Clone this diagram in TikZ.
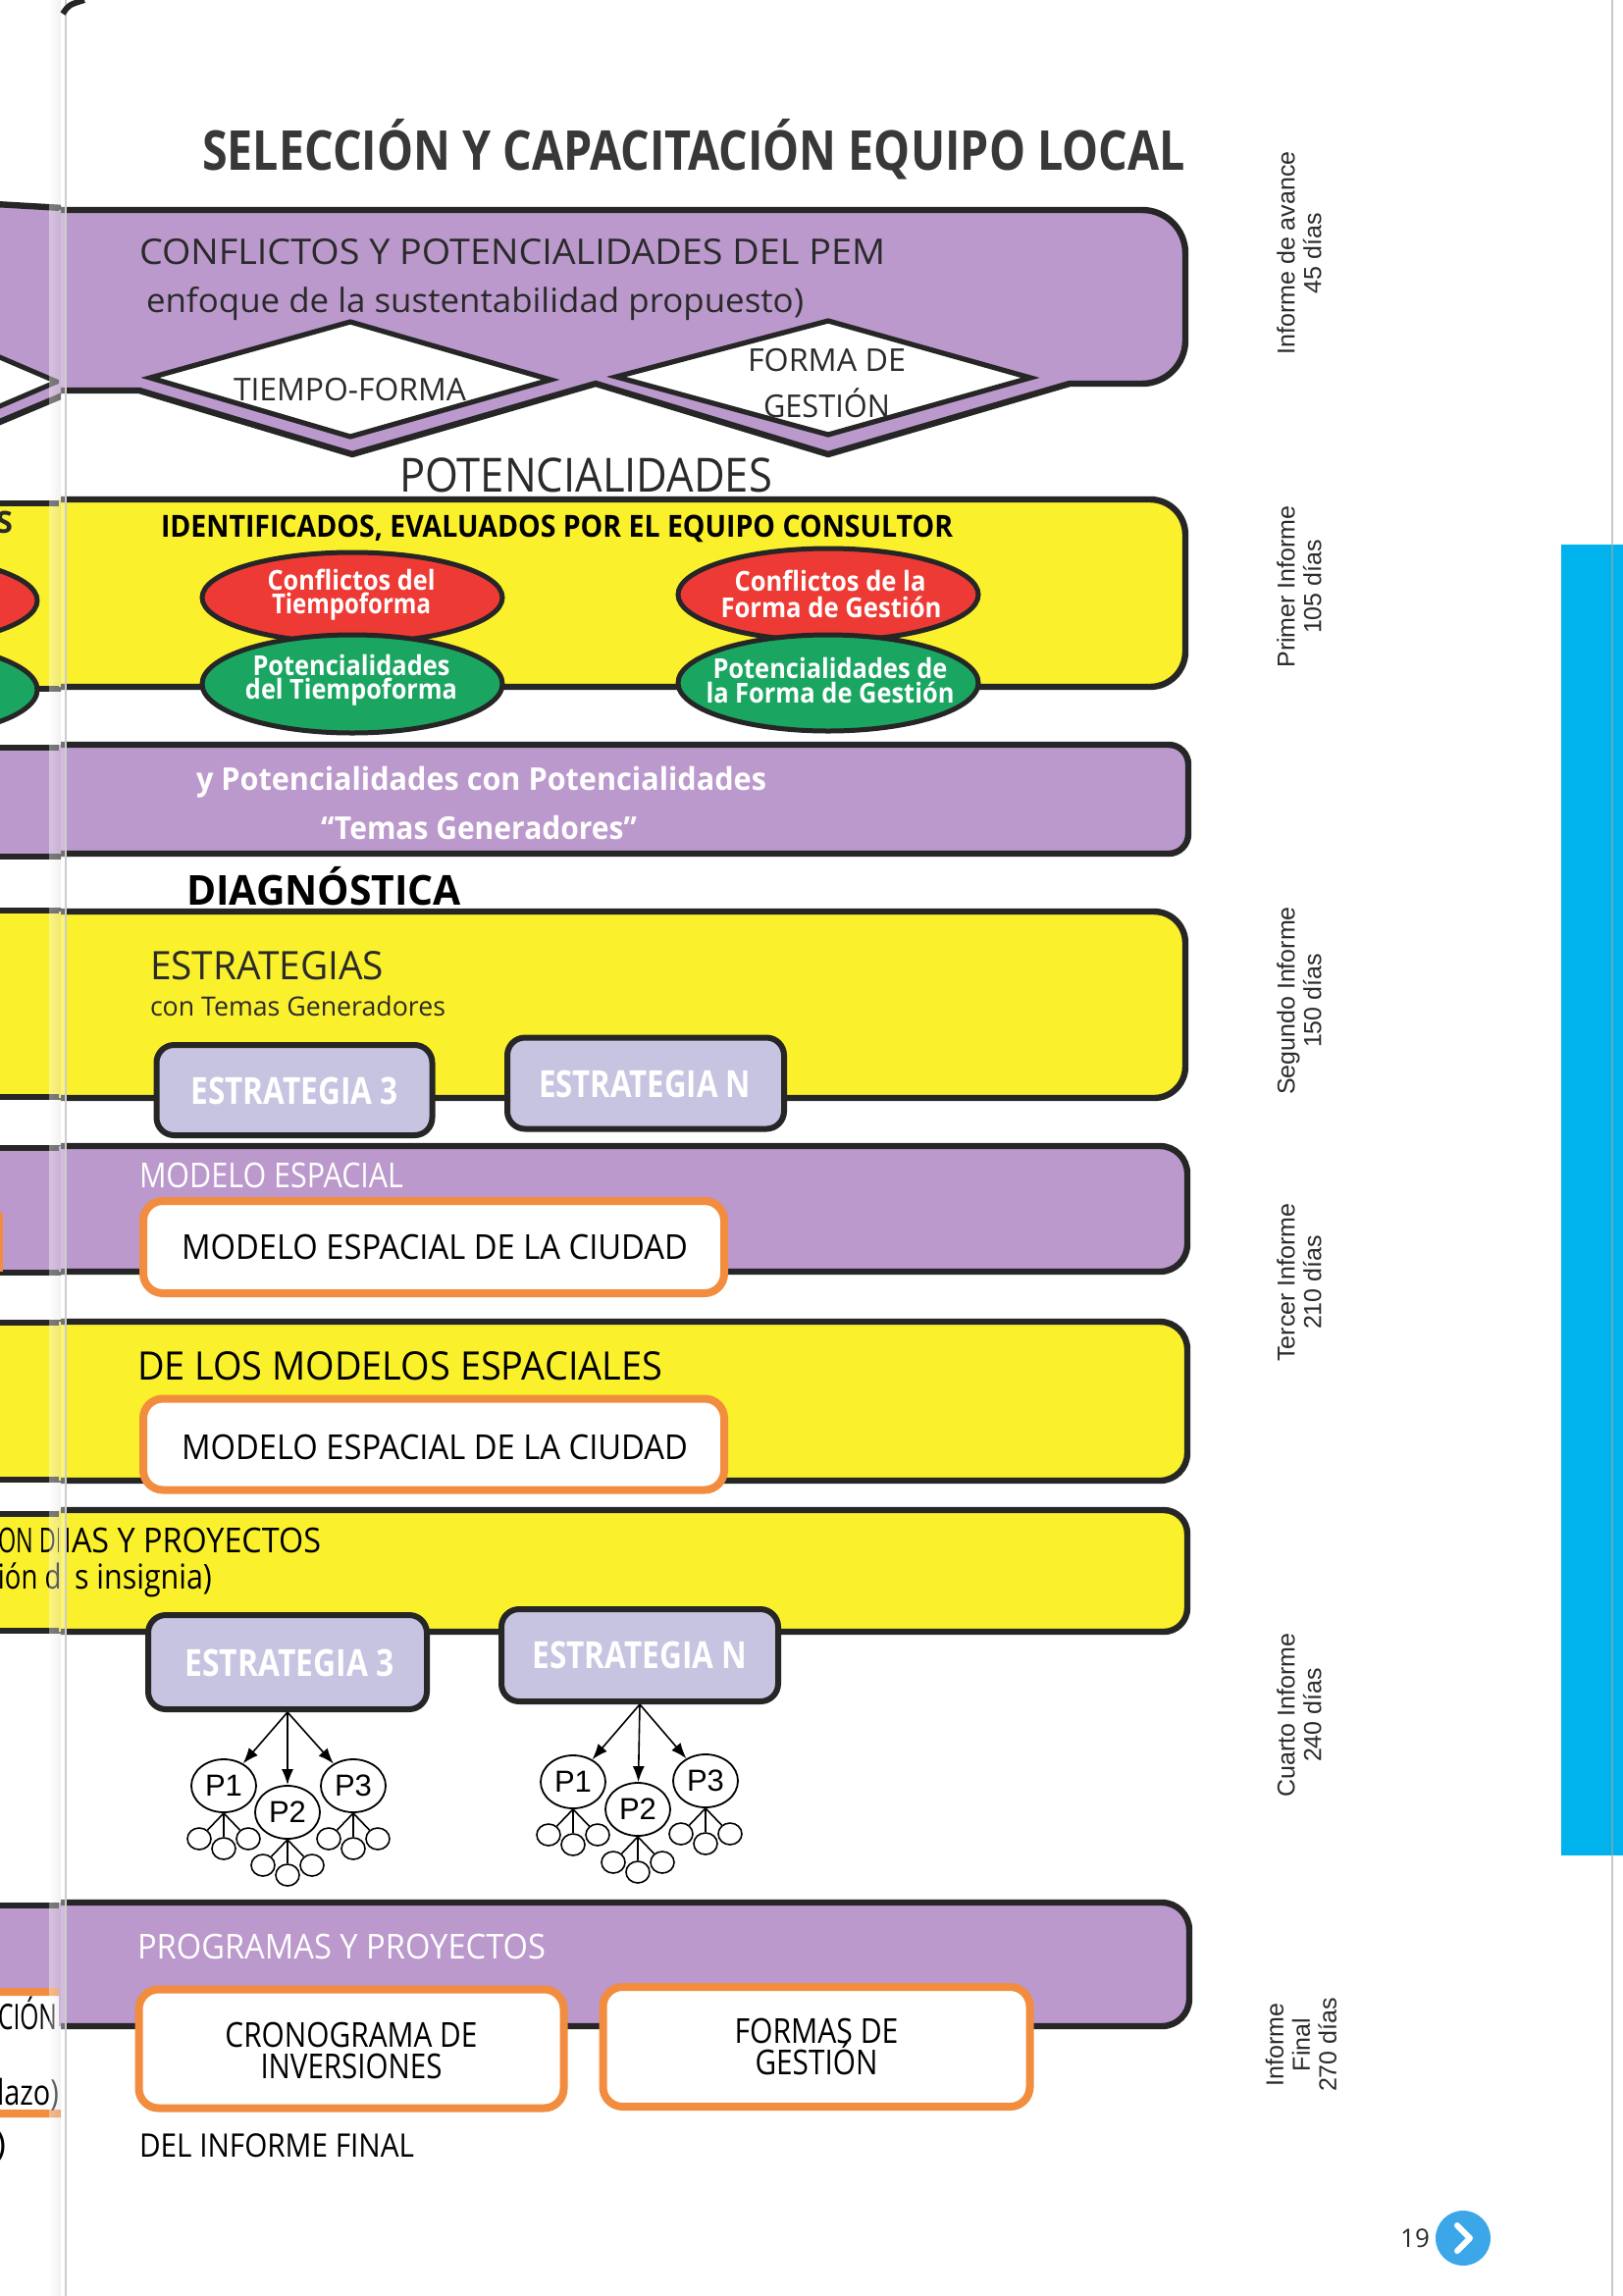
\documentclass[tikz,border=0pt]{standalone}
\usepackage{fontspec}
\usepackage{graphicx}
\setmainfont{Open Sans}
\newfontfamily\arialf{Liberation Sans}
\usetikzlibrary{arrows.meta,shapes.geometric}
\newlength\pxu
\setlength\pxu{0.5pt}
\newcommand\fs[1]{\fontsize{\fpeval{#1/2}}{\fpeval{#1/2}}\selectfont}
\newcommand\fw[2]{\resizebox{#1\pxu}{\height}{#2}}
\definecolor{ink}{HTML}{262626}
\definecolor{txt}{HTML}{2A2A2A}
\definecolor{bandpurple}{HTML}{BB99CC}
\definecolor{bandyellow}{HTML}{FBF02C}
\definecolor{lav}{HTML}{C6C4E1}
\definecolor{orng}{HTML}{F28C3E}
\definecolor{redell}{HTML}{EE3A35}
\definecolor{greenell}{HTML}{1AA661}
\definecolor{cyanbar}{HTML}{00B3EC}
\definecolor{dotblue}{HTML}{3BA7E8}
\tikzset{
  bandline/.style={draw=ink, line width=3.2pt, line join=round},
  tx/.style={inner sep=0pt, outer sep=0pt, anchor=base west, text=txt},
  txc/.style={inner sep=0pt, outer sep=0pt, anchor=base, text=txt},
  wtx/.style={tx, text=white},
  wtxc/.style={txc, text=white},
  lavbox/.style={draw=ink, line width=3pt, fill=lav, rounded corners=9pt, inner sep=0pt},
  orbox/.style={draw=orng, line width=4pt, fill=white, rounded corners=10pt, inner sep=0pt},
  ell/.style={ellipse, draw=ink, line width=2.5pt, inner sep=0pt},
  diam/.style={draw=ink, line width=2.6pt, fill=white, line join=miter},
  pnode/.style={ellipse, draw=black, line width=0.9pt, fill=white, minimum width=33pt, minimum height=27pt, inner sep=0pt, font=\arialf\fs{31}},
  leaf/.style={ellipse, draw=black, line width=0.8pt, fill=white, minimum width=12pt, minimum height=11pt, inner sep=0pt},
  tarrow/.style={draw=black, line width=0.8pt, -{Latex[length=8pt,width=6pt]}},
  tline/.style={draw=black, line width=0.8pt},
  sidelbl/.style={rotate=90, align=center, inner sep=0pt, text=txt, font=\arialf\fontsize{12.5}{13.5}\selectfont},
}
\newcommand\drawband[5]{%
  \fill[#1] (60,#2) [rounded corners=#5] -- (#4,#2) -- (#4,#3) [sharp corners] -- (60,#3) -- cycle;
  \draw[bandline] (62,#2) [rounded corners=#5] -- (#4,#2) -- (#4,#3) [sharp corners] -- (62,#3);
}
\newcommand\leftband[3]{%
  \fill[#1] (-5,#2) rectangle (64,#3);
  \draw[bandline] (-5,#2) -- (64,#2);
  \draw[bandline] (-5,#3) -- (64,#3);
}
\begin{document}
\begin{tikzpicture}[x=0.5pt,y=-0.5pt]
\useasboundingbox (0,0) rectangle (1654,2340);
\fill[white] (0,0) rectangle (1654,2340);

% ---------------- left page fragments ----------------
\begin{scope}
\clip (0,0) rectangle (62,2340);
\fill[bandpurple] (-5,208) -- (64,212) -- (64,402) -- (-5,430) -- cycle;
\fill[white] (-5,362) -- (58,389) -- (-5,416) -- cycle;
\draw[draw=ink, line width=2.5pt] (-5,362) -- (58,389) -- (-5,416);
\draw[bandline] (-5,208) -- (64,212);
\draw[bandline] (-5,432) -- (64,403);
\leftband{bandyellow}{513}{702}
\node[ell, fill=redell, minimum width=153pt, minimum height=46pt] (lred) at (-115,612) {};
\node[ell, fill=greenell, minimum width=153pt, minimum height=49pt] (lgreen) at (-115,703) {};
\node[tx, anchor=base east, font=\bfseries\fs{31}] (ls) at (13,543) {S};
\leftband{bandpurple}{762}{873}
\leftband{bandyellow}{928}{1118}
\leftband{bandpurple}{1170}{1297}
\draw[orng, line width=2pt] (1,1236) -- (1,1296);
\leftband{bandyellow}{1348}{1508}
\leftband{bandyellow}{1543}{1662}
\node[tx, text=black, font=\fs{35}] (lon) at (-2,1582) {\fw{72}{ON DE}};
\node[tx, text=black, font=\fs{35}] (lion) at (-2,1619) {\fw{80}{ión de}};
\fill[bandpurple] (-5,1942) rectangle (64,2065);
\draw[bandline] (-5,1942) -- (64,1942);
\node[orbox, minimum width=160pt, minimum height=62pt] (lbox) at (-22,2092) {};
\node[tx, text=black, anchor=base east, font=\fs{36}] (lcion) at (58,2068) {\fw{60}{CIÓN}};
\node[tx, text=black, anchor=base east, font=\fs{36}] (llazo) at (60,2145) {\fw{63}{lazo)}};
\node[tx, text=black, anchor=base east, font=\fs{36}] (lpar) at (6,2197) {)};
\end{scope}

% ---------------- right page bands ----------------
\fill[bandpurple] (60,214) [rounded corners=22pt] -- (1208,214) -- (1208,391) [sharp corners] -- (1090,391) -- (844,463) -- (607,391) -- (359,463) -- (142,398) -- (60,398) -- cycle;
\draw[bandline] (62,214) [rounded corners=22pt] -- (1208,214) -- (1208,391) [sharp corners] -- (1090,391) -- (844,463) -- (607,391) -- (359,463) -- (142,398) -- (62,398);
\draw[diam] (153,385) -- (357,328) -- (561,387) -- (357,445) -- cycle;
\draw[diam] (628,384) -- (844,327) -- (1050,385) -- (844,443) -- cycle;

\drawband{bandyellow}{509}{700}{1208}{18pt}
\drawband{bandpurple}{759}{870}{1211}{10pt}
\drawband{bandyellow}{929}{1119}{1208}{16pt}
\drawband{bandpurple}{1168}{1296}{1210}{14pt}
\drawband{bandyellow}{1347}{1509}{1210}{14pt}
\drawband{bandyellow}{1539}{1663}{1210}{12pt}
\drawband{bandpurple}{1939}{2065}{1212}{14pt}

% ellipses
\node[ell, fill=redell, minimum width=153pt, minimum height=46pt] (redA) at (359,609) {};
\node[ell, fill=greenell, minimum width=153pt, minimum height=50pt] (greenA) at (359,697) {};
\node[ell, fill=redell, minimum width=153pt, minimum height=47pt] (redB) at (844,606) {};
\node[ell, fill=greenell, minimum width=153pt, minimum height=49pt] (greenB) at (844,696) {};

% boxes
\node[lavbox, minimum width=140.5pt, minimum height=46pt] (estA) at (300,1111) {};
\node[lavbox, minimum width=141pt, minimum height=46.5pt] (estB) at (658,1104) {};
\node[orbox, minimum width=296pt, minimum height=47pt] (modA) at (442,1271) {};
\node[orbox, minimum width=296pt, minimum height=46.5pt] (modB) at (442,1472) {};
\node[lavbox, minimum width=142pt, minimum height=48pt] (estC) at (293,1694) {};
\node[lavbox, minimum width=141pt, minimum height=47pt] (estD) at (652,1687) {};
\node[orbox, minimum width=216.5pt, minimum height=60.5pt] (crono) at (358,2088) {};
\node[orbox, minimum width=217.5pt, minimum height=61pt] (formas) at (832,2086) {};

% trees
\node[pnode] (aP1) at (228,1820) {P1};
\node[pnode] (aP2) at (293,1847) {P2};
\node[pnode] (aP3) at (360,1820) {P3};
\node[pnode] (bP1) at (584,1816) {P1};
\node[pnode] (bP2) at (650,1844) {P2};
\node[pnode] (bP3) at (719,1815) {P3};
\foreach \p in {aP1,aP2,aP3} \draw[tarrow] (estC.south) -- (\p);
\foreach \p in {bP1,bP2,bP3} \draw[tarrow] (estD.south) -- (\p);
\foreach \p/\x/\y in {aP1/228/1820, aP2/293/1847, aP3/360/1820, bP1/584/1816, bP2/650/1844, bP3/719/1815} {
  \node[leaf] (\p-l) at (\x-25,\y+54) {};
  \node[leaf] (\p-m) at (\x,\y+64) {};
  \node[leaf] (\p-r) at (\x+25,\y+54) {};
  \draw[tline] (\p.south) -- (\p-l);
  \draw[tline] (\p.south) -- (\p-m);
  \draw[tline] (\p.south) -- (\p-r);
}

% ---------------- texts ----------------
\node[tx, text=black!78, font=\bfseries\fs{56}] (title) at (206,173) {\fw{1002}{SELECCIÓN Y CAPACITACIÓN EQUIPO LOCAL}};
\node[tx, font=\fs{36}] (t1) at (142,269) {\fw{760}{CONFLICTOS Y POTENCIALIDADES DEL PEM}};
\node[tx, font=\fs{34}] (t2) at (149,318) {\fw{670}{enfoque de la sustentabilidad propuesto)}};
\node[tx, font=\fs{32}] (t3) at (238,408) {\fw{237}{TIEMPO-FORMA}};
\node[tx, font=\fs{32}] (t4) at (762,378) {\fw{161}{FORMA DE}};
\node[tx, font=\fs{32}] (t5) at (778,425) {\fw{129}{GESTIÓN}};
\node[tx, font=\fs{48}] (t6) at (407,501) {\fw{380}{POTENCIALIDADES}};
\node[tx, text=black, font=\bfseries\fs{31}] (t7) at (164,547) {\fw{807}{IDENTIFICADOS, EVALUADOS POR EL EQUIPO CONSULTOR}};

\node[wtxc, font=\bfseries\fs{28}] (r1a) at (358,601) {\fw{171}{Conflictos del}};
\node[wtxc, font=\bfseries\fs{28}] (r1b) at (358,625) {\fw{162}{Tiempoforma}};
\node[wtxc, font=\bfseries\fs{28}] (g1a) at (358,688) {\fw{201}{Potencialidades}};
\node[wtxc, font=\bfseries\fs{28}] (g1b) at (358,712) {\fw{216}{del Tiempoforma}};
\node[wtxc, font=\bfseries\fs{28}] (r2a) at (846,602) {\fw{195}{Conflictos de la}};
\node[wtxc, font=\bfseries\fs{28}] (r2b) at (847,629) {\fw{225}{Forma de Gestión}};
\node[wtxc, font=\bfseries\fs{28}] (g2a) at (846,691) {\fw{239}{Potencialidades de}};
\node[wtxc, font=\bfseries\fs{28}] (g2b) at (846,716) {\fw{253}{la Forma de Gestión}};

\node[wtx, font=\bfseries\fs{32}] (t8) at (200,805) {\fw{581}{y Potencialidades con Potencialidades}};
\node[wtx, font=\bfseries\fs{32}] (t9) at (327,855) {\fw{322}{“Temas Generadores”}};
\node[tx, text=black, font=\bfseries\fs{42}] (t10) at (190,922) {\fw{280}{DIAGNÓSTICA}};
\node[tx, font=\fs{40}] (t11) at (153,998) {\fw{238}{ESTRATEGIAS}};
\node[tx, font=\fs{27}] (t12) at (153,1035) {\fw{301}{con Temas Generadores}};
\node[wtxc, font=\bfseries\fs{38}] (t13) at (300,1125) {\fw{211}{ESTRATEGIA 3}};
\node[wtxc, font=\bfseries\fs{38}] (t14) at (657,1118) {\fw{216}{ESTRATEGIA N}};
\node[wtx, font=\fs{35}] (t15) at (142,1210) {\fw{269}{MODELO ESPACIAL}};
\node[txc, text=black, font=\fs{35}] (t16) at (443,1283) {\fw{516}{MODELO ESPACIAL DE LA CIUDAD}};
\node[tx, text=black, font=\fs{40}] (t17) at (140,1406) {\fw{535}{DE LOS MODELOS ESPACIALES}};
\node[txc, text=black, font=\fs{35}] (t18) at (443,1487) {\fw{516}{MODELO ESPACIAL DE LA CIUDAD}};
\node[tx, text=black, font=\fs{35}] (t19) at (64,1582) {\fw{263}{IAS Y PROYECTOS}};
\node[tx, text=black, font=\fs{35}] (t20) at (76,1619) {\fw{140}{s insignia)}};
\node[wtxc, font=\bfseries\fs{38}] (t21) at (295,1708) {\fw{213}{ESTRATEGIA 3}};
\node[wtxc, font=\bfseries\fs{38}] (t22) at (652,1700) {\fw{219}{ESTRATEGIA N}};
\node[wtx, font=\fs{35}] (t23) at (140,1996) {\fw{416}{PROGRAMAS Y PROYECTOS}};
\node[txc, text=black, font=\fs{35}] (t24) at (358,2086) {\fw{257}{CRONOGRAMA DE}};
\node[txc, text=black, font=\fs{35}] (t25) at (358,2118) {\fw{185}{INVERSIONES}};
\node[txc, text=black, font=\fs{35}] (t26) at (832,2082) {\fw{167}{FORMAS DE}};
\node[txc, text=black, font=\fs{35}] (t27) at (832,2114) {\fw{125}{GESTIÓN}};
\node[tx, text=black, font=\fs{33}] (t28) at (142,2198) {\fw{280}{DEL INFORME FINAL}};

% side labels
\node[sidelbl] (lab1) at (1324,258) {Informe de avance\\45 días};
\node[sidelbl] (lab2) at (1324,598) {Primer Informe\\105 días};
\node[sidelbl] (lab3) at (1324,1020) {Segundo Informe\\150 días};
\node[sidelbl] (lab4) at (1324,1307) {Tercer Informe\\210 días};
\node[sidelbl] (lab5) at (1324,1748) {Cuarto Informe\\240 días};
\node[sidelbl] (lab6) at (1326,2084) {Informe\\Final\\270 días};

% blue bar, page edge, page number
\fill[cyanbar] (1591,555) rectangle (1654,1891);
\draw[black!35, line width=1pt, opacity=0.6] (1643,0) -- (1643,2340);
\node[txc, anchor=center, font=\fs{26}] (pnum) at (1442,2281) {19};
\node[circle, fill=dotblue, minimum size=28pt, inner sep=0pt] (nextbtn) at (1491,2281) {};
\draw[white, line width=3pt, line cap=round, line join=round] ([xshift=-3pt,yshift=6.5pt]nextbtn.center) -- ([xshift=3.5pt]nextbtn.center) -- ([xshift=-3pt,yshift=-6.5pt]nextbtn.center);

% gutter
\shade[left color=white, right color=black!14, opacity=0.4] (50,0) rectangle (62,2340);
\fill[white, opacity=0.35] (62,0) rectangle (68,2340);
\draw[black!20, line width=1pt] (67,0) -- (67,2340);
\draw[ink, line width=3pt] (64,14) .. controls (70,5) .. (86,0);
\end{tikzpicture}
\end{document}
